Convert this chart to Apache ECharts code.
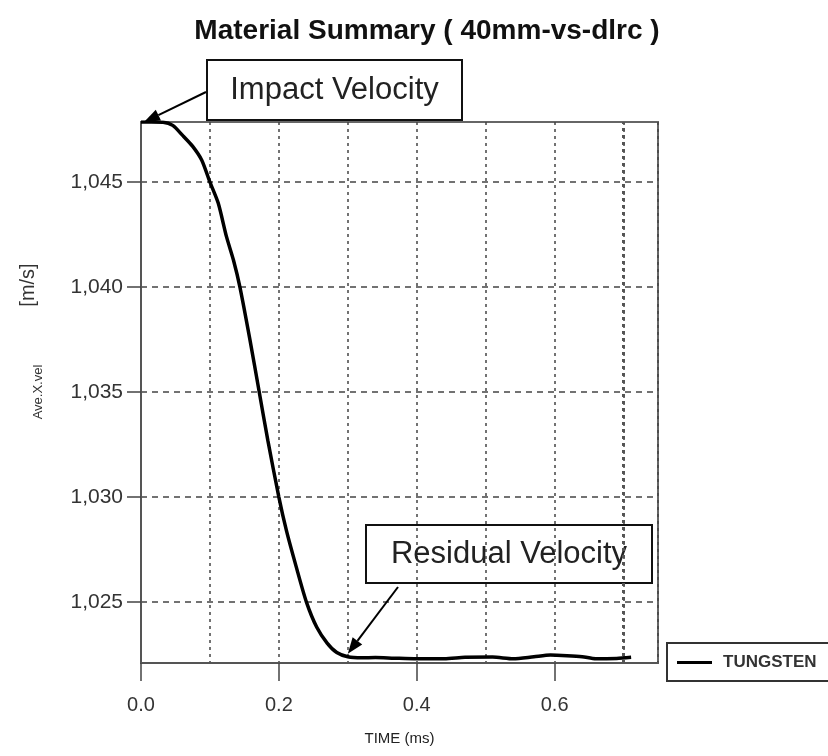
<!DOCTYPE html>
<html>
<head>
<meta charset="utf-8">
<script src="https://cdn.jsdelivr.net/npm/echarts@6/dist/echarts.min.js"></script>
<style>
html,body{margin:0;padding:0;background:#fff;}
#chart{width:828px;height:756px;}
</style>
</head>
<body>
<div id="chart"></div>
<script>
// ---- data ----
const timeMs = [0, 0.015, 0.032, 0.046, 0.061, 0.075, 0.088, 0.1, 0.112, 0.124, 0.134, 0.1435, 0.158, 0.171, 0.184, 0.2, 0.211, 0.225, 0.24, 0.255, 0.27, 0.284, 0.3, 0.32, 0.34, 0.367, 0.40, 0.44, 0.47, 0.51, 0.54, 0.57, 0.594, 0.618, 0.64, 0.66, 0.69, 0.711];
const aveXVel = [1047.86, 1047.86, 1047.85, 1047.7, 1047.2, 1046.7, 1046.05, 1045.0, 1044.0, 1042.4, 1041.3, 1040.0, 1037.5, 1035.1, 1032.7, 1030.0, 1028.4, 1026.7, 1025.0, 1023.8, 1023.05, 1022.6, 1022.4, 1022.35, 1022.36, 1022.33, 1022.3, 1022.3, 1022.37, 1022.38, 1022.3, 1022.4, 1022.48, 1022.45, 1022.4, 1022.3, 1022.32, 1022.37];
const xTickLabels = [0, 0.2, 0.4, 0.6];
const yTickLabels = [1025, 1030, 1035, 1040, 1045];
const seriesName = 'TUNGSTEN';
const titleText = 'Material Summary ( 40mm-vs-dlrc )';
const xMin = 0, xMax = 0.75, yMin = 1022.1, yMax = 1047.86;

const chart = echarts.init(document.getElementById('chart'));
const FONT = '"Liberation Sans", Arial, sans-serif';
const gridDash = {color: '#444', width: 1.5, type: [6, 5]};
const gridDot = {color: '#444', width: 1.5, type: [3, 4]};

const option = {
  animation: false,
  backgroundColor: '#fff',
  title: {
    text: titleText, left: 422, top: 12, textAlign: 'center',
    textStyle: {fontFamily: FONT, fontWeight: 'bold', fontSize: 28, color: '#111'}
  },
  legend: {
    left: 667, top: 643, orient: 'vertical',
    borderColor: '#333', borderWidth: 2, padding: [11, 60, 10, 10],
    icon: 'rect', itemWidth: 35, itemHeight: 3, itemGap: 0,
    textStyle: {fontFamily: FONT, fontWeight: 'bold', fontSize: 17, color: '#333', padding: [0, 0, 0, 6]},
    data: [seriesName]
  },
  grid: {left: 141, right: 170, top: 122, bottom: 93, show: true, borderColor: '#666', borderWidth: 2, containLabel: false},
  xAxis: [{
    type: 'value', min: xMin, max: xMax,
    name: 'TIME (ms)', nameLocation: 'middle', nameGap: 68,
    nameTextStyle: {fontFamily: FONT, fontSize: 15, color: '#222'},
    axisLine: {lineStyle: {color: '#555', width: 2}},
    axisTick: {customValues: xTickLabels, length: 18, inside: false, lineStyle: {color: '#444', width: 1.5}},
    axisLabel: {customValues: xTickLabels, margin: 32, fontFamily: FONT, fontSize: 20, color: '#333', formatter: v => v.toFixed(1)},
    splitLine: {show: false}
  }, {
    type: 'value', min: xMin, max: xMax, interval: 0.1, position: 'bottom',
    axisLine: {show: false}, axisTick: {show: false}, axisLabel: {show: false},
    splitLine: {show: true, lineStyle: gridDot}
  }],
  yAxis: {
    type: 'value', min: yMin, max: yMax,
    axisLine: {show: true, lineStyle: {color: '#555', width: 2}},
    axisTick: {customValues: yTickLabels, length: 14, lineStyle: {color: '#444', width: 1.5}},
    axisLabel: {customValues: yTickLabels, margin: 18, fontFamily: FONT, fontSize: 21, color: '#333',
      formatter: v => Math.round(v).toLocaleString('en-US')},
    splitLine: {show: true, lineStyle: gridDash}
  },
  series: [{
    name: seriesName, type: 'line', xAxisIndex: 0,
    data: timeMs.map((t, i) => [t, aveXVel[i]]),
    showSymbol: false, smooth: 0.25,
    lineStyle: {color: '#000', width: 3.5},
    itemStyle: {color: '#000'},
    markLine: {
      silent: true, symbol: 'none', label: {show: false},
      lineStyle: {color: '#555', width: 3, type: [3, 4]},
      data: [{xAxis: 0.7}]
    }
  }]
};
chart.setOption(option);

function arrow(from, to) {
  const dx = to[0] - from[0], dy = to[1] - from[1];
  const len = Math.sqrt(dx * dx + dy * dy);
  const ux = dx / len, uy = dy / len;
  const hl = 16, hw = 6;
  const bx = to[0] - ux * hl, by = to[1] - uy * hl;
  return [
    {type: 'line', shape: {x1: from[0], y1: from[1], x2: bx, y2: by}, style: {stroke: '#000', lineWidth: 2}},
    {type: 'polygon', shape: {points: [to, [bx - uy * hw, by + ux * hw], [bx + uy * hw, by - ux * hw]]}, style: {fill: '#000'}}
  ];
}
function box(x, y, w, h, text) {
  return [
    {type: 'rect', shape: {x: x, y: y, width: w, height: h}, style: {fill: 'none', stroke: '#111', lineWidth: 2}},
    {type: 'text', x: x + w / 2, y: y + h / 2, style: {text: text, fontFamily: FONT, fontSize: 31, fill: '#222', align: 'center', verticalAlign: 'middle'}}
  ];
}
const pStart = chart.convertToPixel({gridIndex: 0}, [timeMs[0], aveXVel[0]]);
const pRes = chart.convertToPixel({gridIndex: 0}, [timeMs[22], aveXVel[22]]);
chart.setOption({
  graphic: [].concat(
    box(207, 60, 255, 60, 'Impact Velocity'),
    arrow([206, 92], [pStart[0] + 3, pStart[1]]),
    box(366, 525, 286, 58, 'Residual Velocity'),
    arrow([398, 587], [pRes[0], pRes[1] - 3]),
    [
      {type: 'text', x: 28, y: 285, rotation: Math.PI / 2, style: {text: '[m/s]', fontFamily: FONT, fontSize: 20, fill: '#333', align: 'center', verticalAlign: 'middle'}},
      {type: 'text', x: 38, y: 392, rotation: Math.PI / 2, style: {text: 'Ave.X.vel', fontFamily: FONT, fontSize: 13, fill: '#333', align: 'center', verticalAlign: 'middle'}}
    ]
  )
});
</script>
</body>
</html>
